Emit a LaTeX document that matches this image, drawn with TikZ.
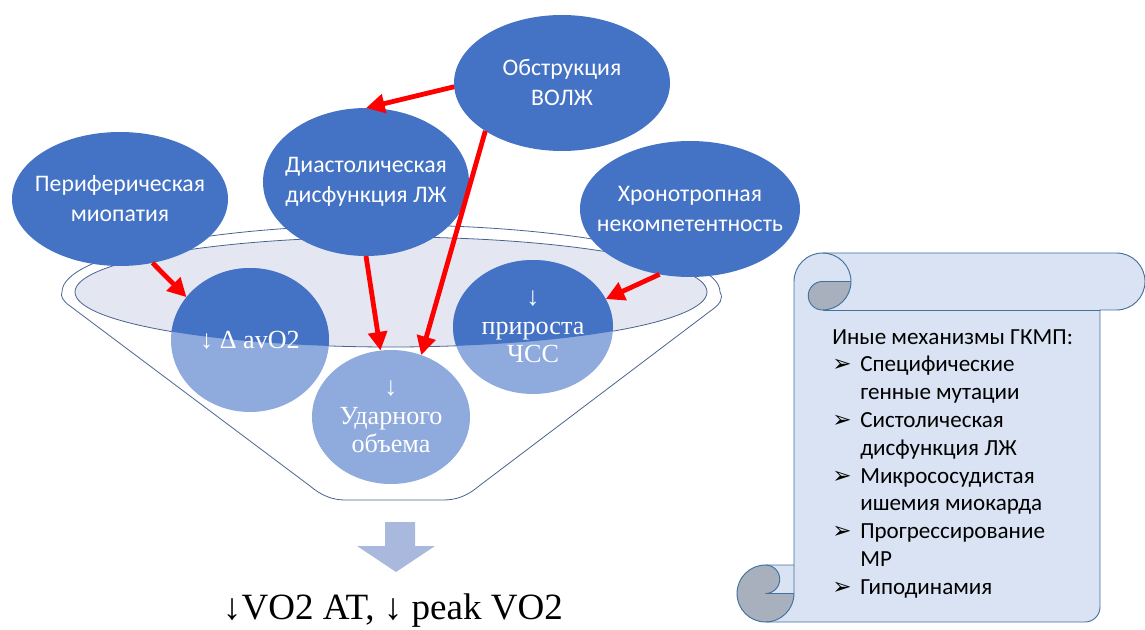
\documentclass[tikz,border=0pt]{standalone}
\usepackage{fontspec}
\usepackage{tikz}
\usetikzlibrary{shapes.geometric, positioning, calc, arrows.meta}
\newfontfamily\calfont{Carlito}
\newfontfamily\timesfont{Liberation Serif}
\newfontfamily\dejafont{DejaVu Sans}
\definecolor{coreblue}{HTML}{4472C4}
\definecolor{paleblue}{HTML}{8FAADC}
\definecolor{rimfill}{HTML}{E4E7F2}
\definecolor{rimline}{HTML}{4A6290}
\definecolor{scrollfill}{HTML}{DAE3F3}
\definecolor{scrollline}{HTML}{41719C}
\definecolor{scrolldark}{HTML}{A8B0BE}
\definecolor{blockfill}{HTML}{A9B9DD}
\newcommand{\scrollbullet}{\makebox[21pt][l]{\dejafont ➢}}
\newcommand{\scrollindent}{\hspace*{21pt}}

\begin{document}
\begin{tikzpicture}[x=0.75pt, y=-0.75pt,
    bigc/.style={ellipse, fill=coreblue, text=white, align=center,
        font=\calfont\fontsize{17.8}{22.5}\selectfont,
        inner xsep=-14pt, inner ysep=0pt, outer sep=0pt},
    innerc/.style={ellipse, fill=paleblue, text=white, align=center,
        font=\timesfont\fontsize{19.6}{21.5}\selectfont,
        inner sep=0pt, outer sep=0pt,
        path picture={\fill[coreblue] (rimc) ellipse [x radius=316, y radius=55];}},
    redarrow/.style={-{Triangle[length=14pt, width=14pt]}, line width=3.6pt, red},
    rim/.style={draw=rimline, line width=0.6pt}]

    \useasboundingbox (0,0) rectangle (1145,630);

    % Funnel: outer rim, sides and bottom
    \coordinate (rimc) at (391,292);
    \draw[rim] (62,292) arc[start angle=180, end angle=360, x radius=329, y radius=67]
        .. controls (724,299) and (719,305) .. (713,309) -- (479,486)
        .. controls (466,497) and (455,500) .. (443,500) -- (345,500)
        .. controls (333,500) and (322,496) .. (310,486) -- (70,306)
        .. controls (63,301) and (60,296) .. (62,292);

    % Inner rim of the funnel
    \draw[rim, fill=rimfill] (rimc) ellipse [x radius=316, y radius=55];

    % Circles inside the funnel
    \node[innerc, minimum width=118.5pt, minimum height=108pt] (avo2) at (250,340) {↓ Δ avO2};
    \node[innerc, minimum width=118.5pt, minimum height=100.5pt] (udar) at (391,417) {↓\\Ударного\\объема};
    \node[innerc, minimum width=120pt, minimum height=100.5pt] (chss) at (533,327) {↓\\прироста\\ЧСС};

    % Causes above the funnel
    \node[bigc, minimum width=162pt, minimum height=100.5pt] (periph) at (120,199) {Периферическая\\миопатия};
    \node[bigc, minimum width=154.5pt, minimum height=111pt] (diast) at (366,182) {Диастолическая\\дисфункция ЛЖ};
    \node[bigc, minimum width=162pt, minimum height=102pt] (obstr) at (562,83) {Обструкция\\ВОЛЖ};
    \node[bigc, minimum width=165pt, minimum height=102pt] (chrono) at (690,209) {Хронотропная\\некомпетентность};

    % Red arrows
    \draw[redarrow] (obstr.182) -- (diast.north);
    \draw[redarrow] (obstr.212) -- (udar.64);
    \draw[redarrow] (diast.south) -- (udar.99);
    \draw[redarrow] (periph.-63) -- (avo2.146);
    \draw[redarrow] (chrono.245) -- (chss.21);

    % Result below the funnel
    \fill[blockfill] (385,522) -- (415,522) -- (415,546) -- (435,546) -- (396,572)
        -- (357,546) -- (385,546) -- cycle;
    \node[font=\timesfont\fontsize{27.8}{32}\selectfont, anchor=base, inner sep=0pt] (peak) at (393,619) {↓VO2 AT, ↓ peak VO2};

    % Scroll with the other mechanisms
    \fill[scrollfill] (794,281.5) arc[start angle=180, delta angle=90, radius=28.5]
        -- (1116.5,253) arc[start angle=270, delta angle=180, radius=28.5]
        -- (1100,310) -- (1100,607) arc[start angle=0, delta angle=90, radius=15]
        -- (765.5,622) arc[start angle=90, delta angle=180, radius=28.5]
        -- (794,565) -- cycle;
    \fill[scrolldark] (851,281.5) arc[start angle=0, delta angle=90, radius=28.5]
        arc[start angle=90, delta angle=180, radius=14.25] -- cycle;
    \fill[scrolldark] (794,593.5) arc[start angle=0, delta angle=270, radius=28.5]
        arc[start angle=270, delta angle=180, radius=14.25] -- cycle;
    \draw[scrollline, line width=0.7pt] (794,565) -- (794,281.5)
        arc[start angle=180, delta angle=90, radius=28.5]
        -- (1116.5,253) arc[start angle=270, delta angle=180, radius=28.5]
        -- (1100,310) -- (1100,607) arc[start angle=0, delta angle=90, radius=15]
        -- (765.5,622) arc[start angle=90, delta angle=180, radius=28.5] -- cycle;
    \draw[scrollline, line width=0.7pt] (822.5,253) arc[start angle=270, delta angle=180, radius=28.5]
        arc[start angle=90, delta angle=180, radius=14.25] -- (851,281.5);
    \draw[scrollline, line width=0.7pt] (1100,310) -- (822.5,310);
    \draw[scrollline, line width=0.7pt] (765.5,565) arc[start angle=270, delta angle=180, radius=14.25]
        -- (794,593.5);
    \draw[scrollline, line width=0.7pt] (765.5,622) arc[start angle=90, delta angle=-90, radius=28.5]
        -- (794,565);

    \node[anchor=north west, align=left, inner sep=0pt,
        font=\calfont\fontsize{17.3}{20.85}\selectfont] (others) at (832,329)
        {Иные механизмы ГКМП:\\
         \scrollbullet Специфические\\
         \scrollindent генные мутации\\
         \scrollbullet Систолическая\\
         \scrollindent дисфункция ЛЖ\\
         \scrollbullet Микрососудистая\\
         \scrollindent ишемия миокарда\\
         \scrollbullet Прогрессирование\\
         \scrollindent МР\\
         \scrollbullet Гиподинамия};

\end{tikzpicture}
\end{document}
